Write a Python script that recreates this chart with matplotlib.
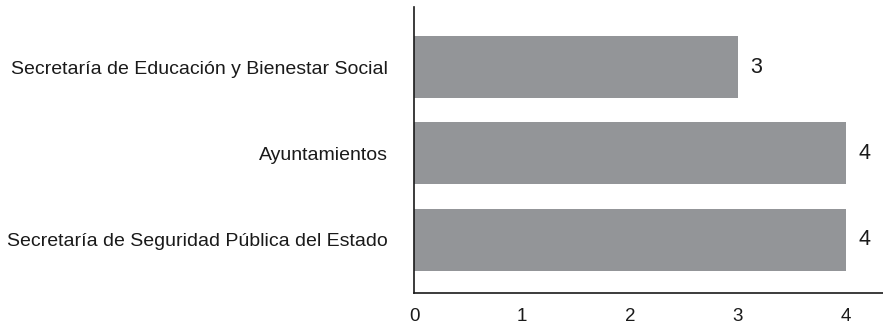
import matplotlib
matplotlib.use("Agg")
import matplotlib.pyplot as plt

plt.rcParams['font.family'] = ['Liberation Sans', 'DejaVu Sans']

categories = [
    "Secretaría de Seguridad Pública del Estado",
    "Ayuntamientos",
    "Secretaría de Educación y Bienestar Social",
]
values = [4, 4, 3]
x_ticks = [0, 1, 2, 3, 4]

W, H = 883, 326
fig = plt.figure(figsize=(W / 100, H / 100), dpi=100)
ax = fig.add_axes([414 / W, 33 / H, 469 / W, 286 / H])

pos = list(range(len(categories)))
ax.barh(pos, values, height=0.72, color="#939598", edgecolor="none")

for y, v in zip(pos, values):
    ax.annotate(f"{v}", xy=(v, y), xytext=(9, 0), textcoords="offset points",
                ha="left", va="center", fontsize=15.5, color="#1a1a1a")

ax.set_xlim(0, 469 / 108)
ax.set_ylim(-0.62, 2.70)
ax.set_yticks(pos)
ax.set_yticklabels(categories, fontsize=14, color="#1a1a1a")
ax.set_xticks(x_ticks)
ax.set_xticklabels([str(t) for t in x_ticks], fontsize=13.5, color="#1a1a1a")
ax.tick_params(axis="y", length=0, pad=19)
ax.tick_params(axis="x", length=0, pad=11)

for side in ("top", "right"):
    ax.spines[side].set_visible(False)
for side in ("left", "bottom"):
    ax.spines[side].set_color("#1a1a1a")
    ax.spines[side].set_linewidth(1.2)

fig.savefig("out.png", dpi=100)
